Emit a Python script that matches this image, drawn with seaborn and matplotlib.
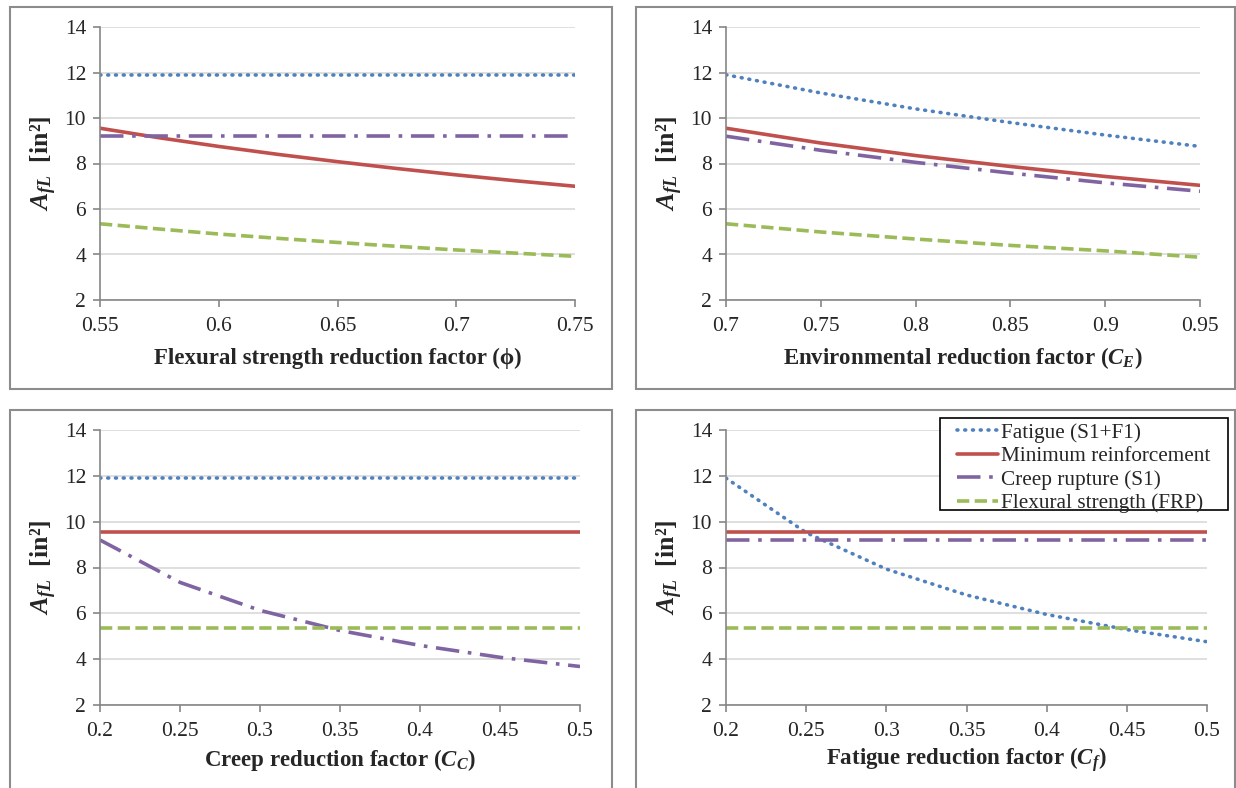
import numpy as np
import pandas as pd
import matplotlib.pyplot as plt
import seaborn as sns
from matplotlib.patches import Rectangle
from matplotlib.ticker import FuncFormatter

# values
phi = [0.55, 0.575, 0.6, 0.625, 0.65, 0.675, 0.7, 0.725, 0.75]
phi_fatigue = [11.9] * 9
phi_minimum = [9.55, 9.13, 8.75, 8.40, 8.08, 7.78, 7.50, 7.24, 7.00]
phi_creep = [9.2] * 9
phi_flexural = [5.35, 5.12, 4.90, 4.71, 4.53, 4.36, 4.20, 4.06, 3.92]

ce = [0.7, 0.75, 0.8, 0.85, 0.9, 0.95]
ce_fatigue = [11.9, 11.1, 10.4, 9.8, 9.25, 8.75]
ce_minimum = [9.55, 8.9, 8.35, 7.87, 7.43, 7.04]
ce_creep = [9.2, 8.58, 8.05, 7.58, 7.15, 6.78]
ce_flexural = [5.35, 4.99, 4.68, 4.40, 4.16, 3.88]

cc = [0.2, 0.25, 0.3, 0.35, 0.4, 0.45, 0.5]
cc_fatigue = [11.9] * 7
cc_minimum = [9.55] * 7
cc_creep = [9.2, 7.35, 6.13, 5.25, 4.6, 4.08, 3.68]
cc_flexural = [5.35] * 7

cf = [0.2, 0.25, 0.3, 0.35, 0.4, 0.45, 0.5]
cf_fatigue = [11.9, 9.52, 7.93, 6.8, 5.95, 5.29, 4.76]
cf_minimum = [9.55] * 7
cf_creep = [9.2] * 7
cf_flexural = [5.35] * 7

series_names = ['Fatigue (S1+F1)', 'Minimum reinforcement',
                'Creep rupture (S1)', 'Flexural strength (FRP)']
xlabels = ['Flexural strength reduction factor (\u03d5)',
           'Environmental reduction factor ($C_E$)',
           'Creep reduction factor ($C_C$)',
           'Fatigue reduction factor ($C_f$)']
ylabel = '$A_{fL}$  [in\u00b2]'
yticks = [2, 4, 6, 8, 10, 12, 14]

sns.set_theme(style='white')
plt.rcParams['font.family'] = ['Liberation Serif', 'DejaVu Serif']
plt.rcParams['mathtext.fontset'] = 'custom'
plt.rcParams['mathtext.rm'] = 'Liberation Serif:bold'
plt.rcParams['mathtext.it'] = 'Liberation Serif:italic:bold'
plt.rcParams['mathtext.bf'] = 'Liberation Serif:bold'

colors = ['#4F81BD', '#C0504D', '#8064A2', '#9BBB59']
styles = [dict(linestyle=(0, (0.25, 1.9)), dash_capstyle='round'),
          dict(linestyle='-'),
          dict(linestyle=(0, (6.5, 2.4, 1.0, 2.4)), dash_capstyle='butt'),
          dict(linestyle=(0, (3.4, 1.5)), dash_capstyle='butt')]

panels = [
    (phi, [phi_fatigue, phi_minimum, phi_creep, phi_flexural], [0.55, 0.6, 0.65, 0.7, 0.75]),
    (ce, [ce_fatigue, ce_minimum, ce_creep, ce_flexural], [0.7, 0.75, 0.8, 0.85, 0.9, 0.95]),
    (cc, [cc_fatigue, cc_minimum, cc_creep, cc_flexural], [0.2, 0.25, 0.3, 0.35, 0.4, 0.45, 0.5]),
    (cf, [cf_fatigue, cf_minimum, cf_creep, cf_flexural], [0.2, 0.25, 0.3, 0.35, 0.4, 0.45, 0.5]),
]

W, H = 1236, 788
fig = plt.figure(figsize=(W / 100, H / 100), dpi=100)

# axes boxes in pixels: left, top, right, bottom
ax_px = [(100, 27, 575, 300), (726, 27, 1200, 300),
         (100, 430, 580, 705), (726, 430, 1207, 705)]
# chart-area frames in pixels
frame_px = [(10, 7, 612, 389), (636, 7, 1235, 389),
            (10, 410, 612, 800), (636, 410, 1235, 800)]
xlabel_y = [-0.213, -0.213, -0.2, -0.2]

for (l, t, r, b) in frame_px:
    fig.patches.append(Rectangle((l / W, 1 - b / H), (r - l) / W, (b - t) / H,
                                 transform=fig.transFigure, fill=False,
                                 edgecolor='#8C8C8C', linewidth=1.5))

for i, (x, ys, xt) in enumerate(panels):
    l, t, r, b = ax_px[i]
    ax = fig.add_axes([l / W, 1 - b / H, (r - l) / W, (b - t) / H])
    for name, y, c, st in zip(series_names, ys, colors, styles):
        df = pd.DataFrame({'x': x, 'y': y})
        sns.lineplot(data=df, x='x', y='y', ax=ax, color=c, linewidth=2.6,
                     label=name, **st)
    ax.set_xlim(xt[0], xt[-1])
    ax.set_ylim(2, 14)
    ax.set_xticks(xt)
    ax.set_yticks(yticks)
    ax.xaxis.set_major_formatter(FuncFormatter(lambda v, p: f'{v:g}'))
    ax.grid(axis='y', color='#D9D9D9', linewidth=1.2)
    ax.grid(axis='x', visible=False)
    for s in ['top', 'right']:
        ax.spines[s].set_visible(False)
    for s in ['left', 'bottom']:
        ax.spines[s].set_color('#868686')
        ax.spines[s].set_linewidth(1.2)
    ax.tick_params(axis='both', direction='out', length=5, width=1.2,
                   color='#868686', labelsize=15.5, left=True, bottom=True)
    ax.tick_params(axis='x', pad=7)
    ax.tick_params(axis='y', pad=5)
    ax.set_xlabel(xlabels[i], fontsize=16.5, fontweight='bold', va='center')
    ax.xaxis.set_label_coords(0.5, xlabel_y[i])
    ax.set_ylabel(ylabel, fontsize=18.5, fontweight='bold', labelpad=4)
    if i == 3:
        leg = ax.legend(loc='upper left', bbox_to_anchor=(957 / W, 1 - 423 / H),
                        bbox_transform=fig.transFigure,
                        fontsize=15.3, frameon=False, handlelength=1.95,
                        handletextpad=0.12, borderpad=0, labelspacing=0.17,
                        borderaxespad=0)
        ax.add_patch(Rectangle((940 / W, 1 - 510 / H), 288 / W, 92 / H,
                               transform=fig.transFigure, fill=True,
                               facecolor='white', edgecolor='black',
                               linewidth=1.2, zorder=4, clip_on=False))
        leg.set_zorder(5)
    else:
        ax.get_legend().remove()

fig.savefig('out.png', dpi=100)
